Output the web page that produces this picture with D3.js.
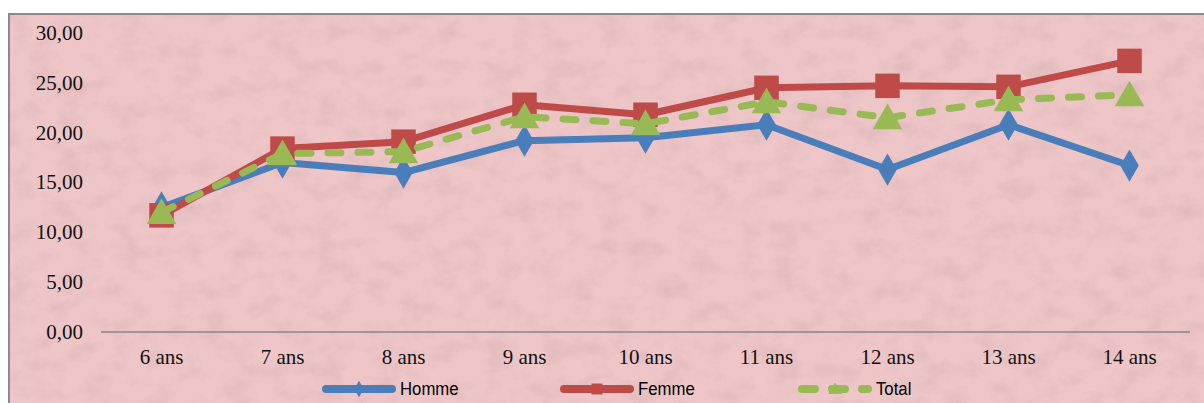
<!DOCTYPE html>
<html>
<head>
<meta charset="utf-8">
<script src="https://cdn.jsdelivr.net/npm/d3@7"></script>
<style>
body { margin: 0; background: #fff; }
svg { display: block; }
</style>
</head>
<body>
<div id="chart"></div>
<script>
'use strict'
var categories = ["6 ans", "7 ans", "8 ans", "9 ans", "10 ans", "11 ans", "12 ans", "13 ans", "14 ans"];
var homme = [12.5, 17.0, 16.0, 19.2, 19.5, 20.8, 16.3, 20.8, 16.7];
var femme = [11.7, 18.4, 19.1, 22.8, 21.8, 24.5, 24.7, 24.6, 27.2];
var total = [12.0, 17.9, 18.1, 21.6, 20.9, 23.1, 21.5, 23.3, 23.8];
var yTicks = [0, 5, 10, 15, 20, 25, 30];

var series = [
	{ name: "Homme", values: homme, color: "#4a7ebb", marker: "diamond", dash: null },
	{ name: "Femme", values: femme, color: "#be4b48", marker: "square", dash: null },
	{ name: "Total", values: total, color: "#98b954", marker: "triangle", dash: "13,17" }
];

var W = 1204, H = 403;
var svg = d3.select("#chart").append("svg").attr("width", W).attr("height", H);

// papier rose texturé
var defs = svg.append("defs");
var f = defs.append("filter").attr("id", "paper").attr("x", 0).attr("y", 0).attr("width", "100%").attr("height", "100%");
f.append("feTurbulence").attr("type", "fractalNoise").attr("baseFrequency", "0.035 0.05").attr("numOctaves", 4).attr("seed", 7).attr("result", "noise");
f.append("feColorMatrix").attr("in", "noise").attr("type", "matrix")
	.attr("values", "0 0 0 0 0.55  0 0 0 0 0.35  0 0 0 0 0.37  0 0 0 -1.1 0.62");

svg.append("rect").attr("x", 8).attr("y", 13).attr("width", W - 8).attr("height", H - 13)
	.attr("fill", "#eec6c8");
svg.append("rect").attr("x", 8).attr("y", 13).attr("width", W - 8).attr("height", H - 13)
	.attr("filter", "url(#paper)").attr("opacity", 0.6);
svg.append("path").attr("d", "M9," + H + "V14H" + W)
	.attr("fill", "none").attr("stroke", "#8a8a8a").attr("stroke-width", 2);

var x = d3.scaleBand().domain(categories).range([101, 1190]);
var y = d3.scaleLinear().domain([0, 30]).range([332, 33]);
var serif = "'Liberation Serif', 'Times New Roman', serif";

// axe Y (libellés seulement)
svg.append("g").selectAll("text").data(yTicks).enter().append("text")
	.attr("x", 83).attr("y", function(d) { return y(d); }).attr("dy", "0.33em")
	.attr("text-anchor", "end")
	.style("font-family", serif).style("font-size", "21px").attr("fill", "#111")
	.text(function(d) { return d3.format(".2f")(d).replace(".", ","); });

// axe X
svg.append("line").attr("x1", 101).attr("x2", 1190).attr("y1", y(0)).attr("y2", y(0))
	.attr("stroke", "#868686").attr("stroke-width", 1.5);
svg.append("g").selectAll("text").data(categories).enter().append("text")
	.attr("x", function(d) { return x(d) + x.bandwidth() / 2; }).attr("y", 364)
	.attr("text-anchor", "middle")
	.style("font-family", serif).style("font-size", "21px").attr("fill", "#111")
	.text(function(d) { return d; });

var symbols = { diamond: d3.symbolDiamond, square: d3.symbolSquare, triangle: d3.symbolTriangle };
var symSize = { diamond: 300, square: 600, triangle: 380 };

var line = d3.line()
	.x(function(d, i) { return x(categories[i]) + x.bandwidth() / 2; })
	.y(function(d) { return y(d); });

series.forEach(function(s) {
	var g = svg.append("g").attr("class", "series");
	g.append("path").datum(s.values)
		.attr("d", line)
		.attr("fill", "none").attr("stroke", s.color).attr("stroke-width", 7)
		.attr("stroke-linejoin", "round")
		.attr("stroke-linecap", s.dash ? "round" : "butt")
		.attr("stroke-dasharray", s.dash);
	g.selectAll("path.mk").data(s.values).enter().append("path")
		.attr("class", "mk")
		.attr("transform", function(d, i) {
			var dy = s.marker === "triangle" ? 3 : 0;
			return "translate(" + (x(categories[i]) + x.bandwidth() / 2) + "," + (y(d) + dy) + ")";
		})
		.attr("d", d3.symbol().type(symbols[s.marker]).size(symSize[s.marker]))
		.attr("fill", s.color);
});

// légende
var legX = [322, 560, 798];
series.forEach(function(s, i) {
	var g = svg.append("g").attr("transform", "translate(" + legX[i] + ",389)");
	g.append("line").attr("x1", 4).attr("x2", 70).attr("y1", 0).attr("y2", 0)
		.attr("stroke", s.color).attr("stroke-width", 8).attr("stroke-linecap", "round")
		.attr("stroke-dasharray", s.dash);
	g.append("path").attr("transform", "translate(37," + (s.marker === "triangle" ? 1 : 0) + ")")
		.attr("d", d3.symbol().type(symbols[s.marker]).size(s.marker === "square" ? 120 : 80))
		.attr("fill", s.color);
	g.append("text").attr("transform", "translate(78,0) scale(0.93,1)").attr("dy", "0.36em")
		.style("font-family", "'Liberation Sans', Arial, sans-serif").style("font-size", "18px")
		.attr("fill", "#000").text(s.name);
});
</script>
</body>
</html>
